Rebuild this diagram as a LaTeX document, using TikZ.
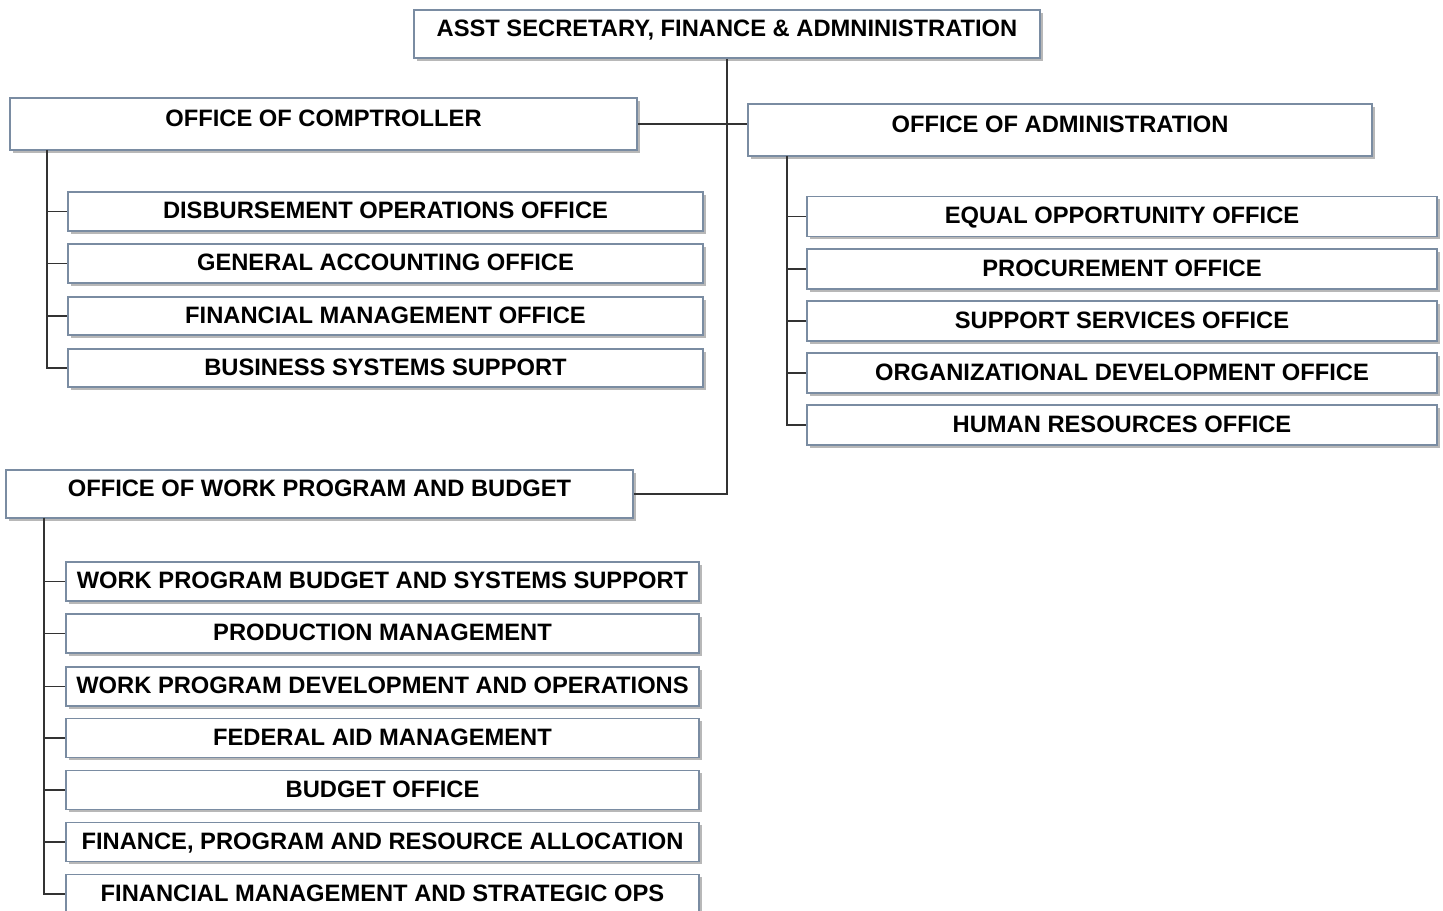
\documentclass[tikz,border=0pt]{standalone}
\usepackage{fontspec}
\setmainfont{Liberation Sans}
\usetikzlibrary{shadows,calc}
\definecolor{boxline}{RGB}{122,140,162}

\begin{document}
\begin{tikzpicture}[x=0.02cm,y=-0.02cm,
	box/.style={draw=boxline, line width=1pt, fill=white, inner sep=0pt,
		font=\bfseries\fontsize{13.5}{14}\selectfont, text height=9.7pt,
		drop shadow={shadow xshift=1.6pt, shadow yshift=-1.6pt, fill=black!28, opacity=1}},
	head/.style={box, text depth=6.8pt},
	unit/.style={box, text depth=1.4pt},
	wire/.style={line width=0.9pt, black!80}]
	
	\useasboundingbox (0,0) rectangle (1443,911);
	
	% top and the three offices
	\node[head, minimum width=12.52cm, minimum height=0.96cm] (asst) at (727,34) {ASST SECRETARY, FINANCE \& ADMNINISTRATION};
	\node[head, minimum width=12.54cm, minimum height=1.04cm] (comp) at (323.5,124) {OFFICE OF COMPTROLLER};
	\node[head, minimum width=12.48cm, minimum height=1.04cm] (adm) at (1060,130) {OFFICE OF ADMINISTRATION};
	\node[head, minimum width=12.54cm, minimum height=0.96cm] (wp) at (319.5,494) {OFFICE OF WORK PROGRAM AND BUDGET};
	
	% comptroller units
	\node[unit, minimum width=12.7cm, minimum height=0.77cm] (c1) at (385.5,211.5) {DISBURSEMENT OPERATIONS OFFICE};
	\node[unit, minimum width=12.7cm, minimum height=0.77cm] (c2) at (385.5,263.5) {GENERAL ACCOUNTING OFFICE};
	\node[unit, minimum width=12.7cm, minimum height=0.77cm] (c3) at (385.5,316) {FINANCIAL MANAGEMENT OFFICE};
	\node[unit, minimum width=12.7cm, minimum height=0.77cm] (c4) at (385.5,368) {BUSINESS SYSTEMS SUPPORT};
	
	% administration units
	\node[unit, minimum width=12.6cm, minimum height=0.8cm] (a1) at (1122,216.5) {EQUAL OPPORTUNITY OFFICE};
	\node[unit, minimum width=12.6cm, minimum height=0.8cm] (a2) at (1122,269) {PROCUREMENT OFFICE};
	\node[unit, minimum width=12.6cm, minimum height=0.8cm] (a3) at (1122,321) {SUPPORT SERVICES OFFICE};
	\node[unit, minimum width=12.6cm, minimum height=0.8cm] (a4) at (1122,373) {ORGANIZATIONAL DEVELOPMENT OFFICE};
	\node[unit, minimum width=12.6cm, minimum height=0.8cm] (a5) at (1122,425) {HUMAN RESOURCES OFFICE};
	
	% work program units
	\node[unit, minimum width=12.66cm, minimum height=0.78cm] (w1) at (382.5,581.5) {WORK PROGRAM BUDGET AND SYSTEMS SUPPORT};
	\node[unit, minimum width=12.66cm, minimum height=0.78cm] (w2) at (382.5,633.5) {PRODUCTION MANAGEMENT};
	\node[unit, minimum width=12.66cm, minimum height=0.78cm] (w3) at (382.5,686.5) {WORK PROGRAM DEVELOPMENT AND OPERATIONS};
	\node[unit, minimum width=12.66cm, minimum height=0.78cm] (w4) at (382.5,738) {FEDERAL AID MANAGEMENT};
	\node[unit, minimum width=12.66cm, minimum height=0.78cm] (w5) at (382.5,790) {BUDGET OFFICE};
	\node[unit, minimum width=12.66cm, minimum height=0.78cm] (w6) at (382.5,842) {FINANCE, PROGRAM AND RESOURCE ALLOCATION};
	\node[unit, minimum width=12.66cm, minimum height=0.78cm] (w7) at (382.5,894) {FINANCIAL MANAGEMENT AND STRATEGIC OPS};
	
	% trunk
	\draw[wire] (asst.south) |- (wp.east);
	\draw[wire] (comp.east) -- (comp.east -| adm.west);
	
	% branch buses
	\coordinate (cb) at (47,150);
	\coordinate (ab) at (787,156);
	\coordinate (wb) at (44,518);
	\draw[wire] (cb) |- (c4.west);
	\draw[wire] (ab) |- (a5.west);
	\draw[wire] (wb) |- (w7.west);
	\foreach \i in {1,2,3}
		\draw[wire] (cb |- c\i.west) -- (c\i.west);
	\foreach \i in {1,...,4}
		\draw[wire] (ab |- a\i.west) -- (a\i.west);
	\foreach \i in {1,...,6}
		\draw[wire] (wb |- w\i.west) -- (w\i.west);
	
\end{tikzpicture}
\end{document}
